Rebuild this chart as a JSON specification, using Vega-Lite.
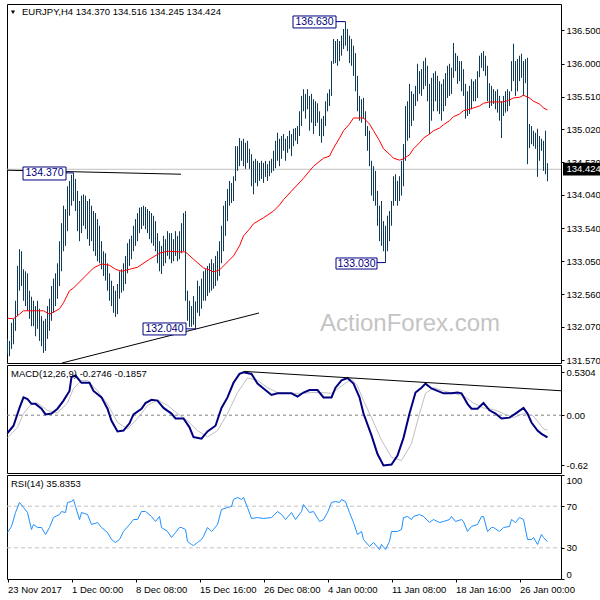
{
"$schema": "https://vega.github.io/schema/vega-lite/v6.json",
"background": "white",
"padding": {"left": 3, "top": 3, "right": 0, "bottom": 0},
"spacing": 2,
"bounds": "flush",
"config": {
  "view": {"stroke": "#000000", "strokeWidth": 1},
  "font": "Liberation Sans",
  "axis": {"labelFont": "Liberation Sans", "labelFontSize": 9.5, "labelColor": "#000000", "tickColor": "#000000", "domain": false, "grid": false, "tickSize": 3, "labelPadding": 2}
},
"datasets": {
  "bars": [
{"i":0,"p":131.89,"l":131.66},{"i":1,"p":131.86,"l":131.63},{"i":2,"p":132.13,"l":131.74},{"i":3,"p":132.19,"l":131.81},{"i":4,"p":132.46,"l":132.01},{"i":5,"p":132.98,"l":132.23},{"i":6,"p":133.23,"l":132.61},{"i":7,"p":133.20,"l":132.68},{"i":8,"p":132.93,"l":132.46},{"i":9,"p":132.90,"l":132.38},
{"i":10,"p":132.87,"l":132.31},{"i":11,"p":132.61,"l":132.19},{"i":12,"p":132.52,"l":132.08},{"i":13,"p":132.46,"l":132.08},{"i":14,"p":132.38,"l":131.93},{"i":15,"p":132.46,"l":132.04},{"i":16,"p":132.34,"l":131.86},{"i":17,"p":132.23,"l":131.78},{"i":18,"p":132.16,"l":131.68},{"i":19,"p":132.19,"l":131.71},
{"i":20,"p":132.38,"l":131.89},{"i":21,"p":132.49,"l":132.01},{"i":22,"p":132.68,"l":132.16},{"i":23,"p":132.79,"l":132.28},{"i":24,"p":132.87,"l":132.38},{"i":25,"p":133.02,"l":132.49},{"i":26,"p":133.35,"l":132.68},{"i":27,"p":133.62,"l":132.90},{"i":28,"p":133.88,"l":133.20},{"i":29,"p":133.83,"l":133.28},
{"i":30,"p":134.17,"l":133.50},{"i":31,"p":134.25,"l":133.73},{"i":32,"p":134.34,"l":133.88},{"i":33,"p":134.37,"l":133.95},{"i":34,"p":134.28,"l":133.80},{"i":35,"p":134.10,"l":133.50},{"i":36,"p":133.95,"l":133.35},{"i":37,"p":134.03,"l":133.47},{"i":38,"p":134.05,"l":133.58},{"i":39,"p":134.03,"l":133.53},
{"i":40,"p":133.95,"l":133.38},{"i":41,"p":133.98,"l":133.28},{"i":42,"p":133.88,"l":133.35},{"i":43,"p":133.80,"l":133.20},{"i":44,"p":133.77,"l":133.13},{"i":45,"p":133.68,"l":133.05},{"i":46,"p":133.58,"l":133.02},{"i":47,"p":133.35,"l":132.93},{"i":48,"p":133.20,"l":132.83},{"i":49,"p":133.17,"l":132.76},
{"i":50,"p":133.02,"l":132.61},{"i":51,"p":132.87,"l":132.46},{"i":52,"p":132.76,"l":132.38},{"i":53,"p":132.68,"l":132.28},{"i":54,"p":132.61,"l":132.22},{"i":55,"p":132.71,"l":132.26},{"i":56,"p":132.90,"l":132.49},{"i":57,"p":132.93,"l":132.58},{"i":58,"p":133.02,"l":132.61},{"i":59,"p":133.13,"l":132.71},
{"i":60,"p":133.32,"l":132.87},{"i":61,"p":133.38,"l":132.98},{"i":62,"p":133.43,"l":133.08},{"i":63,"p":133.58,"l":133.20},{"i":64,"p":133.68,"l":133.28},{"i":65,"p":133.77,"l":133.35},{"i":66,"p":133.85,"l":133.47},{"i":67,"p":133.86,"l":133.53},{"i":68,"p":133.88,"l":133.58},{"i":69,"p":133.86,"l":133.53},
{"i":70,"p":133.83,"l":133.47},{"i":71,"p":133.80,"l":133.38},{"i":72,"p":133.77,"l":133.32},{"i":73,"p":133.73,"l":133.28},{"i":74,"p":133.65,"l":133.20},{"i":75,"p":133.47,"l":133.02},{"i":76,"p":133.35,"l":132.90},{"i":77,"p":133.28,"l":132.86},{"i":78,"p":133.43,"l":132.98},{"i":79,"p":133.38,"l":133.02},
{"i":80,"p":133.50,"l":133.13},{"i":81,"p":133.47,"l":133.08},{"i":82,"p":133.47,"l":133.02},{"i":83,"p":133.38,"l":133.05},{"i":84,"p":133.50,"l":133.13},{"i":85,"p":133.43,"l":133.05},{"i":86,"p":133.50,"l":133.08},{"i":87,"p":133.62,"l":133.17},{"i":88,"p":133.77,"l":133.20},{"i":89,"p":133.80,"l":132.46},
{"i":90,"p":132.61,"l":132.16},{"i":91,"p":132.46,"l":132.07},{"i":92,"p":132.38,"l":132.07},{"i":93,"p":132.53,"l":132.10},{"i":94,"p":132.45,"l":132.04},{"i":95,"p":132.76,"l":132.28},{"i":96,"p":132.68,"l":132.23},{"i":97,"p":132.79,"l":132.34},{"i":98,"p":132.90,"l":132.46},{"i":99,"p":132.93,"l":132.46},
{"i":100,"p":132.98,"l":132.53},{"i":101,"p":133.02,"l":132.58},{"i":102,"p":133.08,"l":132.61},{"i":103,"p":133.02,"l":132.64},{"i":104,"p":133.13,"l":132.68},{"i":105,"p":133.20,"l":132.76},{"i":106,"p":133.35,"l":132.83},{"i":107,"p":133.58,"l":133.02},{"i":108,"p":133.88,"l":133.20},{"i":109,"p":133.95,"l":133.43},
{"i":110,"p":134.13,"l":133.65},{"i":111,"p":134.25,"l":133.88},{"i":112,"p":134.22,"l":133.92},{"i":113,"p":134.32,"l":133.95},{"i":114,"p":134.77,"l":134.25},{"i":115,"p":134.77,"l":134.40},{"i":116,"p":134.89,"l":134.47},{"i":117,"p":134.85,"l":134.55},{"i":118,"p":134.88,"l":134.47},{"i":119,"p":134.82,"l":134.43},
{"i":120,"p":134.85,"l":134.52},{"i":121,"p":134.73,"l":134.43},{"i":122,"p":134.65,"l":134.17},{"i":123,"p":134.55,"l":134.05},{"i":124,"p":134.58,"l":134.22},{"i":125,"p":134.55,"l":134.17},{"i":126,"p":134.52,"l":134.25},{"i":127,"p":134.55,"l":134.28},{"i":128,"p":134.52,"l":134.22},{"i":129,"p":134.55,"l":134.31},
{"i":130,"p":134.50,"l":134.25},{"i":131,"p":134.55,"l":134.32},{"i":132,"p":134.58,"l":134.37},{"i":133,"p":134.70,"l":134.40},{"i":134,"p":134.85,"l":134.44},{"i":135,"p":134.97,"l":134.55},{"i":136,"p":134.88,"l":134.47},{"i":137,"p":134.92,"l":134.58},{"i":138,"p":134.95,"l":134.70},{"i":139,"p":134.88,"l":134.55},
{"i":140,"p":134.92,"l":134.67},{"i":141,"p":135.00,"l":134.73},{"i":142,"p":134.95,"l":134.62},{"i":143,"p":135.03,"l":134.77},{"i":144,"p":135.04,"l":134.85},{"i":145,"p":135.07,"l":134.80},{"i":146,"p":135.29,"l":134.92},{"i":147,"p":135.52,"l":135.07},{"i":148,"p":135.62,"l":135.29},{"i":149,"p":135.55,"l":135.18},
{"i":150,"p":135.62,"l":135.32},{"i":151,"p":135.52,"l":135.00},{"i":152,"p":135.55,"l":135.12},{"i":153,"p":135.47,"l":134.95},{"i":154,"p":135.44,"l":135.07},{"i":155,"p":135.41,"l":135.12},{"i":156,"p":135.29,"l":134.92},{"i":157,"p":135.18,"l":134.82},{"i":158,"p":135.22,"l":134.92},{"i":159,"p":135.44,"l":135.07},
{"i":160,"p":135.56,"l":135.29},{"i":161,"p":135.62,"l":135.37},{"i":162,"p":136.04,"l":135.52},{"i":163,"p":136.37,"l":136.00},{"i":164,"p":136.34,"l":136.01},{"i":165,"p":136.37,"l":135.97},{"i":166,"p":136.34,"l":136.04},{"i":167,"p":136.42,"l":136.12},{"i":168,"p":136.52,"l":136.22},{"i":169,"p":136.63,"l":136.27},
{"i":170,"p":136.52,"l":136.19},{"i":171,"p":136.42,"l":136.01},{"i":172,"p":136.37,"l":135.97},{"i":173,"p":136.27,"l":135.82},{"i":174,"p":136.16,"l":135.59},{"i":175,"p":135.82,"l":135.29},{"i":176,"p":135.52,"l":135.15},{"i":177,"p":135.47,"l":135.12},{"i":178,"p":135.49,"l":135.18},{"i":179,"p":135.29,"l":134.92},
{"i":180,"p":135.07,"l":134.70},{"i":181,"p":135.00,"l":134.47},{"i":182,"p":134.55,"l":134.03},{"i":183,"p":134.47,"l":133.95},{"i":184,"p":134.40,"l":133.88},{"i":185,"p":134.10,"l":133.58},{"i":186,"p":133.88,"l":133.35},{"i":187,"p":133.95,"l":133.28},{"i":188,"p":133.65,"l":133.20},{"i":189,"p":133.58,"l":133.03},
{"i":190,"p":133.73,"l":133.20},{"i":191,"p":133.80,"l":133.35},{"i":192,"p":133.95,"l":133.58},{"i":193,"p":134.32,"l":133.88},{"i":194,"p":134.35,"l":133.95},{"i":195,"p":134.25,"l":133.88},{"i":196,"p":134.32,"l":133.95},{"i":197,"p":134.55,"l":134.03},{"i":198,"p":134.80,"l":134.17},{"i":199,"p":135.37,"l":134.55},
{"i":200,"p":135.44,"l":134.85},{"i":201,"p":135.70,"l":134.89},{"i":202,"p":135.59,"l":135.07},{"i":203,"p":135.55,"l":135.15},{"i":204,"p":135.67,"l":135.37},{"i":205,"p":136.00,"l":135.44},{"i":206,"p":135.89,"l":135.55},{"i":207,"p":135.92,"l":135.52},{"i":208,"p":136.04,"l":135.62},{"i":209,"p":136.09,"l":135.67},
{"i":210,"p":135.97,"l":135.44},{"i":211,"p":135.70,"l":134.95},{"i":212,"p":135.79,"l":135.15},{"i":213,"p":135.86,"l":135.29},{"i":214,"p":135.89,"l":135.44},{"i":215,"p":135.82,"l":135.29},{"i":216,"p":135.74,"l":135.25},{"i":217,"p":135.70,"l":135.15},{"i":218,"p":135.77,"l":135.29},{"i":219,"p":135.86,"l":135.37},
{"i":220,"p":135.97,"l":135.49},{"i":221,"p":136.00,"l":135.52},{"i":222,"p":135.94,"l":135.55},{"i":223,"p":136.31,"l":135.79},{"i":224,"p":136.16,"l":135.89},{"i":225,"p":136.12,"l":135.70},{"i":226,"p":136.04,"l":135.74},{"i":227,"p":136.04,"l":135.59},{"i":228,"p":135.92,"l":135.52},{"i":229,"p":135.70,"l":135.18},
{"i":230,"p":135.59,"l":135.22},{"i":231,"p":135.67,"l":135.25},{"i":232,"p":135.77,"l":135.32},{"i":233,"p":135.74,"l":135.44},{"i":234,"p":135.77,"l":135.44},{"i":235,"p":135.89,"l":135.49},{"i":236,"p":136.12,"l":135.80},{"i":237,"p":136.16,"l":135.94},{"i":238,"p":136.19,"l":135.89},{"i":239,"p":136.12,"l":135.82},
{"i":240,"p":135.97,"l":135.44},{"i":241,"p":135.71,"l":135.34},{"i":242,"p":135.67,"l":135.37},{"i":243,"p":135.62,"l":135.40},{"i":244,"p":135.59,"l":135.32},{"i":245,"p":135.62,"l":135.27},{"i":246,"p":135.52,"l":135.15},{"i":247,"p":135.44,"l":134.89},{"i":248,"p":135.52,"l":135.22},{"i":249,"p":135.59,"l":135.27},
{"i":250,"p":135.62,"l":135.29},{"i":251,"p":135.59,"l":135.37},{"i":252,"p":136.04,"l":135.59},{"i":253,"p":136.30,"l":135.74},{"i":254,"p":136.04,"l":135.52},{"i":255,"p":136.07,"l":135.59},{"i":256,"p":136.12,"l":135.74},{"i":257,"p":136.15,"l":135.79},{"i":258,"p":136.04,"l":135.52},{"i":259,"p":136.07,"l":135.71},
{"i":260,"p":136.09,"l":134.50},{"i":261,"p":135.10,"l":134.74},{"i":262,"p":135.07,"l":134.80},{"i":263,"p":135.00,"l":134.77},{"i":264,"p":134.97,"l":134.73},{"i":265,"p":135.03,"l":134.31},{"i":266,"p":134.92,"l":134.55},{"i":267,"p":134.88,"l":134.70},{"i":268,"p":134.85,"l":134.40},{"i":269,"p":135.00,"l":134.35},
{"i":270,"p":134.516,"l":134.245}
  ],
  "ma": [
{"i":0,"p":132.20},{"i":3,"p":132.19},{"i":6,"p":132.26},{"i":8,"p":132.31},{"i":13,"p":132.31},{"i":18,"p":132.31},{"i":21,"p":132.26},{"i":23,"p":132.29},{"i":26,"p":132.34},{"i":28,"p":132.43},{"i":31,"p":132.61},{"i":33,"p":132.65},{"i":38,"p":132.80},{"i":43,"p":132.95},{"i":47,"p":133.01},{"i":51,"p":132.99},{"i":54,"p":132.93},{"i":57,"p":132.90},{"i":61,"p":132.93},{"i":65,"p":132.96},{"i":71,"p":133.08},{"i":76,"p":133.17},{"i":80,"p":133.20},{"i":86,"p":133.19},{"i":89,"p":133.19},{"i":93,"p":133.08},{"i":98,"p":132.95},{"i":101,"p":132.92},{"i":103,"p":132.89},{"i":106,"p":132.92},{"i":108,"p":132.98},{"i":113,"p":133.13},{"i":116,"p":133.28},{"i":118,"p":133.43},{"i":121,"p":133.53},{"i":123,"p":133.61},{"i":128,"p":133.70},{"i":133,"p":133.80},{"i":136,"p":133.89},{"i":138,"p":133.97},{"i":143,"p":134.13},{"i":148,"p":134.29},{"i":153,"p":134.47},{"i":158,"p":134.59},{"i":161,"p":134.62},{"i":163,"p":134.74},{"i":166,"p":134.89},{"i":168,"p":135.00},{"i":171,"p":135.10},{"i":173,"p":135.19},{"i":176,"p":135.19},{"i":178,"p":135.19},{"i":181,"p":135.10},{"i":183,"p":135.00},{"i":186,"p":134.85},{"i":188,"p":134.73},{"i":191,"p":134.65},{"i":193,"p":134.59},{"i":196,"p":134.56},{"i":198,"p":134.58},{"i":201,"p":134.64},{"i":203,"p":134.73},{"i":206,"p":134.82},{"i":208,"p":134.89},{"i":211,"p":134.95},{"i":213,"p":135.00},{"i":216,"p":135.04},{"i":218,"p":135.09},{"i":221,"p":135.15},{"i":223,"p":135.21},{"i":226,"p":135.25},{"i":228,"p":135.30},{"i":231,"p":135.32},{"i":233,"p":135.34},{"i":236,"p":135.37},{"i":238,"p":135.41},{"i":241,"p":135.43},{"i":246,"p":135.43},{"i":248,"p":135.43},{"i":251,"p":135.46},{"i":253,"p":135.49},{"i":256,"p":135.50},{"i":258,"p":135.53},{"i":261,"p":135.49},{"i":263,"p":135.44},{"i":266,"p":135.40},{"i":268,"p":135.34},{"i":270,"p":135.31}
  ],
  "cur": [{"i":-0.25,"p":134.424},{"i":276.75,"p":134.424}],
  "tl1": [{"i":-0.25,"p":134.41},{"i":86.75,"p":134.35}],
  "tl2": [{"i":27.25,"p":131.53},{"i":125.75,"p":132.277}],
  "annbox": [
    {"i":7.75,"i2":29.25,"p":134.458,"p2":134.264},
    {"i":142.75,"i2":164.25,"p":136.714,"p2":136.535},
    {"i":164.25,"i2":184.75,"p":133.099,"p2":132.934},
    {"i":67.75,"i2":89.25,"p":132.128,"p2":131.949}
  ],
  "anntext": [
    {"i":18.5,"p":134.361,"t":"134.370"},
    {"i":153.5,"p":136.625,"t":"136.630"},
    {"i":174.5,"p":133.016,"t":"133.030"},
    {"i":78.5,"p":132.038,"t":"132.040"}
  ],
  "conn": [
    {"i":29.25,"i2":33,"p":134.37},
    {"i":164.25,"i2":169,"p":136.63},
    {"i":184.75,"i2":189,"p":133.03},
    {"i":89.25,"i2":94,"p":132.04}
  ],
  "tagbox": [{"i":277.75,"i2":298.5,"p":134.52,"p2":134.33}],
  "tagtext": [{"i":279.5,"p":134.424,"t":"134.424"}],
  "title": [{"i":7.25,"p":136.77,"t":"EURJPY,H4  134.370 134.516 134.245 134.424"}],
  "tri": [{"i":2.75,"p":136.77}],
  "wm": [{"i":201.25,"p":132.11,"t":"ActionForex.com"}],
  "macd": [
{"i":0,"v":-0.22},{"i":3,"v":-0.13},{"i":6,"v":0.09},{"i":8,"v":0.22},{"i":10,"v":0.20},{"i":12,"v":0.14},{"i":14,"v":0.14},{"i":17,"v":0.08},{"i":19,"v":0.01},{"i":22,"v":0.02},{"i":25,"v":0.08},{"i":28,"v":0.18},{"i":31,"v":0.30},{"i":32,"v":0.47},{"i":34,"v":0.49},{"i":37,"v":0.40},{"i":41,"v":0.40},{"i":43,"v":0.30},{"i":47,"v":0.22},{"i":50,"v":0.08},{"i":52,"v":-0.07},{"i":55,"v":-0.20},{"i":58,"v":-0.19},{"i":61,"v":-0.10},{"i":63,"v":0.01},{"i":67,"v":0.08},{"i":69,"v":0.15},{"i":72,"v":0.19},{"i":75,"v":0.18},{"i":78,"v":0.09},{"i":82,"v":0.02},{"i":84,"v":-0.04},{"i":88,"v":-0.04},{"i":91,"v":-0.15},{"i":93,"v":-0.27},{"i":97,"v":-0.29},{"i":100,"v":-0.20},{"i":104,"v":-0.13},{"i":107,"v":0.09},{"i":110,"v":0.22},{"i":113,"v":0.40},{"i":116,"v":0.51},{"i":118,"v":0.5304},{"i":122,"v":0.51},{"i":125,"v":0.39},{"i":128,"v":0.33},{"i":132,"v":0.25},{"i":135,"v":0.27},{"i":142,"v":0.27},{"i":145,"v":0.23},{"i":148,"v":0.28},{"i":151,"v":0.31},{"i":155,"v":0.31},{"i":158,"v":0.22},{"i":162,"v":0.22},{"i":164,"v":0.34},{"i":167,"v":0.43},{"i":170,"v":0.46},{"i":173,"v":0.39},{"i":176,"v":0.22},{"i":178,"v":0.02},{"i":182,"v":-0.25},{"i":185,"v":-0.48},{"i":188,"v":-0.62},{"i":192,"v":-0.61},{"i":195,"v":-0.50},{"i":198,"v":-0.28},{"i":201,"v":0.02},{"i":204,"v":0.28},{"i":207,"v":0.34},{"i":209,"v":0.39},{"i":212,"v":0.33},{"i":215,"v":0.30},{"i":218,"v":0.27},{"i":222,"v":0.27},{"i":225,"v":0.28},{"i":227,"v":0.27},{"i":230,"v":0.14},{"i":232,"v":0.08},{"i":235,"v":0.08},{"i":238,"v":0.15},{"i":241,"v":0.06},{"i":244,"v":0.02},{"i":247,"v":-0.04},{"i":251,"v":-0.03},{"i":254,"v":0.02},{"i":258,"v":0.09},{"i":260,"v":0.02},{"i":262,"v":-0.09},{"i":265,"v":-0.19},{"i":267,"v":-0.23},{"i":270,"v":-0.2746}
  ],
  "sig": [
{"i":0,"v":-0.28},{"i":5,"v":-0.15},{"i":8,"v":0.02},{"i":12,"v":0.14},{"i":15,"v":0.15},{"i":20,"v":0.06},{"i":25,"v":0.03},{"i":30,"v":0.15},{"i":33,"v":0.33},{"i":37,"v":0.43},{"i":40,"v":0.43},{"i":45,"v":0.30},{"i":50,"v":0.14},{"i":55,"v":-0.09},{"i":60,"v":-0.17},{"i":65,"v":-0.04},{"i":70,"v":0.12},{"i":75,"v":0.19},{"i":80,"v":0.12},{"i":85,"v":0.02},{"i":90,"v":-0.07},{"i":95,"v":-0.19},{"i":100,"v":-0.27},{"i":105,"v":-0.19},{"i":110,"v":0.02},{"i":115,"v":0.28},{"i":120,"v":0.46},{"i":125,"v":0.43},{"i":130,"v":0.34},{"i":135,"v":0.28},{"i":142,"v":0.27},{"i":148,"v":0.27},{"i":152,"v":0.28},{"i":157,"v":0.28},{"i":162,"v":0.27},{"i":167,"v":0.36},{"i":172,"v":0.45},{"i":175,"v":0.36},{"i":178,"v":0.18},{"i":182,"v":-0.03},{"i":187,"v":-0.31},{"i":192,"v":-0.52},{"i":197,"v":-0.56},{"i":202,"v":-0.35},{"i":206,"v":0.02},{"i":209,"v":0.27},{"i":213,"v":0.34},{"i":218,"v":0.30},{"i":223,"v":0.27},{"i":228,"v":0.24},{"i":233,"v":0.15},{"i":238,"v":0.09},{"i":243,"v":0.07},{"i":248,"v":0.02},{"i":253,"v":-0.03},{"i":258,"v":0.02},{"i":263,"v":-0.01},{"i":268,"v":-0.17},{"i":270,"v":-0.1857}
  ],
  "zero": [{"i":-0.25,"v":0},{"i":276.75,"v":0}],
  "tl3": [{"i":118.25,"v":0.541},{"i":276.75,"v":0.302}],
  "macdlab": [{"i":1.75,"v":0.506,"t":"MACD(12,26,9) -0.2746 -0.1857"}],
  "rsi": [
{"i":0,"v":44.7},{"i":2,"v":50.5},{"i":4,"v":63.9},{"i":6,"v":73.6},{"i":8,"v":68.8},{"i":10,"v":63.9},{"i":12,"v":47.6},{"i":13,"v":52.4},{"i":15,"v":49.5},{"i":17,"v":49.5},{"i":19,"v":42.8},{"i":21,"v":49.5},{"i":23,"v":59.1},{"i":26,"v":62.0},{"i":27,"v":64.9},{"i":29,"v":63.9},{"i":30,"v":73.6},{"i":32,"v":74.5},{"i":33,"v":76.4},{"i":34,"v":69.7},{"i":36,"v":57.2},{"i":37,"v":63.9},{"i":40,"v":62.0},{"i":42,"v":52.4},{"i":45,"v":54.3},{"i":47,"v":49.5},{"i":50,"v":44.7},{"i":52,"v":38.0},{"i":54,"v":35.1},{"i":56,"v":38.0},{"i":58,"v":45.7},{"i":61,"v":52.4},{"i":63,"v":57.2},{"i":65,"v":57.2},{"i":67,"v":64.9},{"i":69,"v":64.9},{"i":72,"v":60.1},{"i":74,"v":55.3},{"i":76,"v":60.1},{"i":77,"v":49.5},{"i":80,"v":45.7},{"i":82,"v":39.9},{"i":84,"v":44.7},{"i":86,"v":49.5},{"i":87,"v":49.5},{"i":89,"v":47.6},{"i":90,"v":36.1},{"i":92,"v":33.2},{"i":93,"v":32.2},{"i":95,"v":35.1},{"i":97,"v":38.0},{"i":98,"v":40.9},{"i":100,"v":49.5},{"i":102,"v":45.7},{"i":103,"v":47.6},{"i":105,"v":52.4},{"i":107,"v":66.8},{"i":110,"v":68.8},{"i":112,"v":69.7},{"i":113,"v":76.4},{"i":115,"v":78.4},{"i":117,"v":76.4},{"i":118,"v":78.4},{"i":120,"v":68.8},{"i":122,"v":58.2},{"i":125,"v":59.1},{"i":128,"v":58.2},{"i":132,"v":59.1},{"i":135,"v":64.9},{"i":137,"v":62.0},{"i":139,"v":57.2},{"i":142,"v":63.9},{"i":144,"v":57.2},{"i":147,"v":64.9},{"i":148,"v":71.6},{"i":151,"v":63.9},{"i":153,"v":64.9},{"i":156,"v":55.3},{"i":158,"v":57.2},{"i":160,"v":63.9},{"i":162,"v":73.6},{"i":164,"v":74.5},{"i":166,"v":73.6},{"i":167,"v":76.4},{"i":169,"v":74.5},{"i":171,"v":63.9},{"i":173,"v":54.3},{"i":175,"v":42.8},{"i":177,"v":45.7},{"i":178,"v":38.0},{"i":181,"v":31.3},{"i":183,"v":35.1},{"i":186,"v":28.4},{"i":187,"v":33.2},{"i":189,"v":28.4},{"i":191,"v":36.1},{"i":192,"v":45.7},{"i":195,"v":45.7},{"i":197,"v":47.6},{"i":198,"v":59.1},{"i":200,"v":60.1},{"i":202,"v":57.2},{"i":203,"v":60.1},{"i":206,"v":62.0},{"i":208,"v":60.1},{"i":211,"v":54.3},{"i":213,"v":57.2},{"i":216,"v":54.3},{"i":218,"v":55.3},{"i":221,"v":57.2},{"i":222,"v":60.1},{"i":224,"v":55.3},{"i":227,"v":57.2},{"i":228,"v":55.3},{"i":230,"v":45.7},{"i":232,"v":50.5},{"i":235,"v":52.4},{"i":237,"v":60.1},{"i":238,"v":60.1},{"i":240,"v":45.7},{"i":242,"v":49.5},{"i":243,"v":49.5},{"i":246,"v":45.7},{"i":248,"v":49.5},{"i":251,"v":50.5},{"i":252,"v":57.2},{"i":254,"v":54.3},{"i":256,"v":59.1},{"i":258,"v":57.2},{"i":260,"v":38.0},{"i":262,"v":38.0},{"i":263,"v":39.9},{"i":265,"v":33.2},{"i":267,"v":42.8},{"i":268,"v":39.9},{"i":270,"v":35.8353}
  ],
  "rsilev": [{"i":-0.25,"v":70,"g":"a"},{"i":276.75,"v":70,"g":"a"},{"i":-0.25,"v":30,"g":"b"},{"i":276.75,"v":30,"g":"b"}],
  "rsilab": [{"i":1.75,"v":91.8,"t":"RSI(14) 35.8353"}]
},
"vconcat": [
  {
    "width": 554, "height": 359,
    "encoding": {
      "x": {"field": "i", "type": "quantitative", "scale": {"domain": [-0.25, 276.75], "nice": false, "zero": false}, "axis": null},
      "y": {"field": "p", "type": "quantitative", "scale": {"domain": [131.53, 136.893], "nice": false, "zero": false},
            "axis": {"orient": "right", "title": null, "values": [131.57, 132.07, 132.56, 133.05, 133.54, 134.04, 134.53, 135.02, 135.51, 136.0, 136.5], "format": ".3f"}}
    },
    "layer": [
      {"data": {"name": "wm"}, "mark": {"type": "text", "align": "center", "baseline": "middle", "fontSize": 24, "color": "#c4c4c4", "font": "Liberation Sans"}, "encoding": {"text": {"field": "t"}}},
      {"data": {"name": "cur"}, "mark": {"type": "line", "color": "#c0c0c0", "strokeWidth": 1}},
      {"data": {"name": "bars"}, "mark": {"type": "rule", "color": "#0f3a58", "strokeWidth": 1}, "encoding": {"y2": {"field": "l"}}},
      {"data": {"name": "ma"}, "mark": {"type": "line", "color": "#ff0000", "strokeWidth": 1}},
      {"data": {"name": "tl1"}, "mark": {"type": "line", "color": "#000000", "strokeWidth": 1}},
      {"data": {"name": "tl2"}, "mark": {"type": "line", "color": "#000000", "strokeWidth": 1}},
      {"data": {"name": "conn"}, "mark": {"type": "rule", "color": "#000080", "strokeWidth": 1}, "encoding": {"x2": {"field": "i2"}}},
      {"data": {"name": "annbox"}, "mark": {"type": "rect", "fill": "#ffffff", "stroke": "#000080", "strokeWidth": 1}, "encoding": {"x2": {"field": "i2"}, "y2": {"field": "p2"}}},
      {"data": {"name": "anntext"}, "mark": {"type": "text", "align": "center", "baseline": "middle", "fontSize": 10.5, "color": "#000080"}, "encoding": {"text": {"field": "t"}}},
      {"data": {"name": "tagbox"}, "mark": {"type": "rect", "fill": "#000000"}, "encoding": {"x2": {"field": "i2"}, "y2": {"field": "p2"}}},
      {"data": {"name": "tagtext"}, "mark": {"type": "text", "align": "left", "baseline": "middle", "fontSize": 9.5, "color": "#ffffff"}, "encoding": {"text": {"field": "t"}}},
      {"data": {"name": "tri"}, "mark": {"type": "point", "shape": "triangle-down", "filled": true, "size": 18, "color": "#000000", "opacity": 1}},
      {"data": {"name": "title"}, "mark": {"type": "text", "align": "left", "baseline": "middle", "fontSize": 9.5, "color": "#000000"}, "encoding": {"text": {"field": "t"}}}
    ]
  },
  {
    "width": 554, "height": 108,
    "encoding": {
      "x": {"field": "i", "type": "quantitative", "scale": {"domain": [-0.25, 276.75], "nice": false, "zero": false}, "axis": null},
      "y": {"field": "v", "type": "quantitative", "scale": {"domain": [-0.714, 0.62], "nice": false, "zero": false},
            "axis": {"orient": "right", "title": null, "values": [-0.62, 0, 0.5304], "labelExpr": "datum.value == 0 ? '0.00' : (datum.value < 0 ? '-0.62' : '0.5304')"}}
    },
    "layer": [
      {"data": {"name": "zero"}, "mark": {"type": "line", "color": "#808080", "strokeWidth": 1, "strokeDash": [3, 3]}},
      {"data": {"name": "sig"}, "mark": {"type": "line", "color": "#c0c0c0", "strokeWidth": 1}},
      {"data": {"name": "macd"}, "mark": {"type": "line", "color": "#000080", "strokeWidth": 2}},
      {"data": {"name": "tl3"}, "mark": {"type": "line", "color": "#000000", "strokeWidth": 1}},
      {"data": {"name": "macdlab"}, "mark": {"type": "text", "align": "left", "baseline": "middle", "fontSize": 9.5, "color": "#000000"}, "encoding": {"text": {"field": "t"}}}
    ]
  },
  {
    "width": 554, "height": 104,
    "encoding": {
      "x": {"field": "i", "type": "quantitative", "scale": {"domain": [-0.25, 276.75], "nice": false, "zero": false},
            "axis": {"orient": "bottom", "title": null, "values": [0, 32, 64, 96, 128, 160, 192, 224, 256], "labelAlign": "left", "labelBaseline": "top", "labelPadding": 2, "tickSize": 3, "labelOverlap": false, "labelFlush": false,
                     "labelExpr": "datum.value == 0 ? '23 Nov 2017' : datum.value == 32 ? '1 Dec 00:00' : datum.value == 64 ? '8 Dec 08:00' : datum.value == 96 ? '15 Dec 16:00' : datum.value == 128 ? '26 Dec 08:00' : datum.value == 160 ? '4 Jan 00:00' : datum.value == 192 ? '11 Jan 08:00' : datum.value == 224 ? '18 Jan 16:00' : '26 Jan 00:00'"}},
      "y": {"field": "v", "type": "quantitative", "scale": {"domain": [0, 100], "nice": false, "zero": false},
            "axis": {"orient": "right", "title": null, "values": [0, 30, 70, 100], "format": "d", "labelFlush": true}}
    },
    "layer": [
      {"data": {"name": "rsilev"}, "mark": {"type": "line", "color": "#c0c0c0", "strokeWidth": 1, "strokeDash": [4, 3]}, "encoding": {"detail": {"field": "g"}}},
      {"data": {"name": "rsi"}, "mark": {"type": "line", "color": "#1e90ff", "strokeWidth": 1}},
      {"data": {"name": "rsilab"}, "mark": {"type": "text", "align": "left", "baseline": "middle", "fontSize": 9.5, "color": "#000000"}, "encoding": {"text": {"field": "t"}}}
    ]
  }
]
}
